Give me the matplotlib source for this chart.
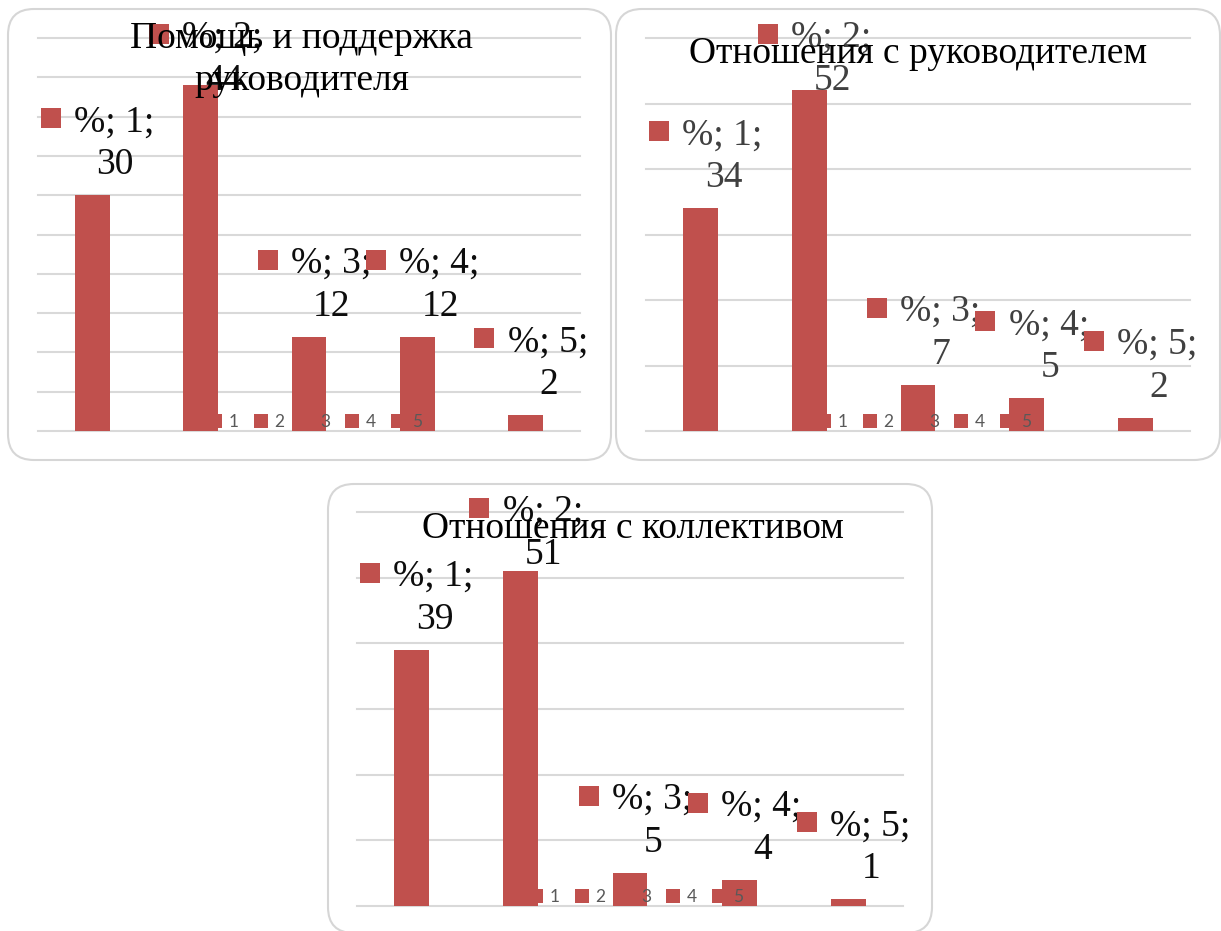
import matplotlib
matplotlib.use("Agg")
import matplotlib.pyplot as plt
from matplotlib.patches import FancyBboxPatch
from matplotlib.lines import Line2D
from matplotlib.transforms import IdentityTransform, offset_copy

W, H, DPI = 1221, 931, 100

categories = ["1", "2", "3", "4", "5"]
series_name = "%"

help_values = [30, 44, 12, 12, 2]
manager_values = [34, 52, 7, 5, 2]
team_values = [39, 51, 5, 4, 1]

help_title = ["Помощь и поддержка", "руководителя"]
manager_title = ["Отношения с руководителем"]
team_title = ["Отношения с коллективом"]

BAR = "#C0504D"
GRID = "#D9D9D9"
BORDER = "#D6D6D6"
SERIF = ["Liberation Serif", "DejaVu Serif"]
FS = 27

# pixel layout, origin at top-left: axes (l, t, r, b), frame (l, t, r, b)
panels = [
    dict(values=help_values, ymax=50, step=5, title=help_title,
         axes=(38, 38, 580, 431), frame=(8, 9, 611, 460),
         title_pos=[(301, 48), (302, 90)], color="#0d0d0d"),
    dict(values=manager_values, ymax=60, step=10, title=manager_title,
         axes=(646, 38, 1190, 431), frame=(616, 9, 1220, 460),
         title_pos=[(918, 63)], color="#404040"),
    dict(values=team_values, ymax=60, step=10, title=team_title,
         axes=(357, 512, 903, 906), frame=(328, 484, 932, 933),
         title_pos=[(633, 538)], color="#0d0d0d"),
]

fig = plt.figure(figsize=(W / DPI, H / DPI), dpi=DPI)
fig.patch.set_facecolor("white")


def px_rect(l, t, r, b):
    return [l / W, 1 - b / H, (r - l) / W, (b - t) / H]


for p in panels:
    l, t, r, b = p["frame"]
    frame = FancyBboxPatch((l, H - b), r - l, b - t,
                           boxstyle="round,pad=0,rounding_size=26",
                           transform=IdentityTransform(), facecolor="white",
                           edgecolor=BORDER, linewidth=1.5, zorder=0)
    fig.add_artist(frame)

    ax = fig.add_axes(px_rect(*p["axes"]))
    ax.set_facecolor("none")
    x = list(range(len(categories)))
    ax.bar(x, p["values"], width=0.32, color=BAR, zorder=2)
    ax.set_xlim(-0.5, len(categories) - 0.5)
    ax.set_ylim(0, p["ymax"])
    ax.set_yticks(range(0, p["ymax"] + 1, p["step"]))
    ax.set_xticks([])
    ax.tick_params(left=False, labelleft=False)
    ax.grid(axis="y", color=GRID, linewidth=1.5)
    for gl in ax.get_ygridlines():
        gl.set_clip_on(False)
    ax.set_axisbelow(True)
    for s in ax.spines.values():
        s.set_visible(False)

    # data labels: legend key + "series; category;" over the value
    top_px = ax.transAxes.transform((0, 1))[1]
    for i, (cat, v) in enumerate(zip(categories, p["values"])):
        bar_top = ax.transData.transform((i, v))[1]
        base = min(bar_top + 21, top_px - 52)
        dy = base - bar_top
        ax.annotate(str(v), xy=(i, v), xytext=(23, dy), textcoords="offset pixels",
                    ha="center", va="baseline", fontsize=FS, family=SERIF,
                    color=p["color"], zorder=5, annotation_clip=False)
        ax.annotate(f"{series_name}; {cat};", xy=(i, v), xytext=(22, dy + 43),
                    textcoords="offset pixels", ha="center", va="baseline",
                    fontsize=FS, family=SERIF, color=p["color"], zorder=5,
                    annotation_clip=False)
        key_tr = offset_copy(ax.transData, fig=fig, x=-41.5, y=dy + 56, units="dots")
        ax.plot([i], [v], marker="s", markersize=13.7, markeredgewidth=0,
                color=BAR, transform=key_tr, clip_on=False, zorder=5)

    handles = [Line2D([], [], ls="", marker="s", markersize=9.5,
                      markeredgewidth=0, color=BAR) for _ in categories]
    ax_w = p["axes"][2] - p["axes"][0]
    ax_h = p["axes"][3] - p["axes"][1]
    leg = ax.legend(handles, categories, ncol=5, loc="center",
                    bbox_to_anchor=(0.5 + 6 / ax_w, 9 / ax_h), frameon=False,
                    prop={"family": ["Lato", "DejaVu Sans"], "size": 12.5},
                    labelcolor="#595959", handlelength=0.8, handletextpad=0.4,
                    columnspacing=0.85, borderpad=0, borderaxespad=0)
    leg.set_zorder(4)

    for line, (tx, ty) in zip(p["title"], p["title_pos"]):
        fig.text(tx / W, 1 - ty / H, line, ha="center", va="baseline",
                 fontsize=FS, family=SERIF, color="black", zorder=6)

fig.savefig("out.png", dpi=DPI, facecolor="white")
